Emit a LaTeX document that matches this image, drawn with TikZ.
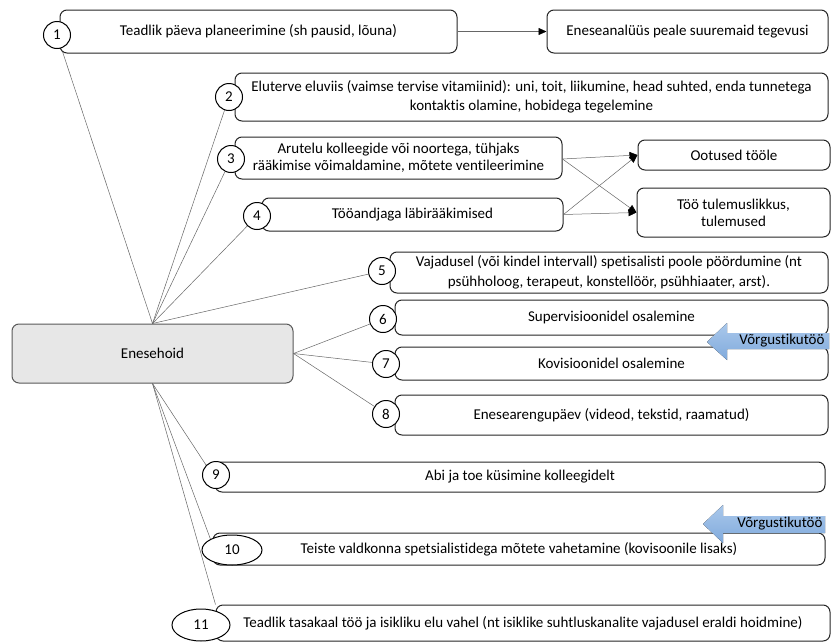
\documentclass[tikz,border=0pt]{standalone}
\usepackage{fontspec}
\setmainfont{Carlito}[Ligatures=NoCommon]
\usetikzlibrary{arrows.meta,shapes.geometric,backgrounds}
\definecolor{blueA}{RGB}{170,200,235}
\definecolor{blueB}{RGB}{128,170,220}
\definecolor{enefill}{RGB}{231,231,231}
\begin{document}
\begin{tikzpicture}[x=1pt,y=-1pt,
  every node/.style={font=\fontsize{15}{18}\selectfont},
  box/.style={draw=black!85,line width=1pt,rounded corners=7pt,fill=white,inner sep=0pt,align=center},
  num/.style={circle,draw=black,line width=1pt,fill=white,minimum size=27pt,inner sep=0pt},
  numell/.style={ellipse,draw=black,line width=1pt,fill=white,inner sep=0pt},
  conn/.style={draw=black!60,line width=0.5pt},
  arr/.style={draw=black!60,line width=0.5pt,-{Triangle[length=8pt,width=7pt,fill=black,color=black]}},
  bluearrow/.style={top color=blueA,bottom color=blueB,draw=none},
  plain/.style={inner sep=0pt}
]
\useasboundingbox (0,0) rectangle (831,643);

% boxes
\node[box,minimum width=397pt,minimum height=43pt] (b1) at (258.5,31.5) {Teadlik päeva planeerimine (sh pausid, lõuna)};
\node[box,minimum width=281pt,minimum height=43pt] (anal) at (687.5,31.5) {Eneseanalüüs peale suuremaid tegevusi};
\node[box,minimum width=593pt,minimum height=48pt,font=\fontsize{15}{19}\selectfont] (b2) at (531.5,97) {Eluterve eluviis (vaimse tervise vitamiinid): uni, toit, liikumine, head suhted, enda tunnetega\\kontaktis olamine, hobidega tegelemine};
\node[box,minimum width=327pt,minimum height=42pt,font=\fontsize{15}{17}\selectfont] (b3) at (398.5,158) {Arutelu kolleegide või noortega, tühjaks\\rääkimise võimaldamine, mõtete ventileerimine};
\node[box,minimum width=301pt,minimum height=33pt] (b4) at (412.5,214.5) {Tööandjaga läbirääkimised};
\node[box,minimum width=192pt,minimum height=30pt] (oot) at (734,155) {Ootused tööle};
\node[box,minimum width=193pt,minimum height=49pt,font=\fontsize{15}{17}\selectfont] (tul) at (733.5,212.5) {Töö tulemuslikkus,\\tulemused};
\node[box,minimum width=438pt,minimum height=41pt,font=\fontsize{15}{20}\selectfont] (b5) at (609,272.5) {Vajadusel (või kindel intervall) spetisalisti poole pöördumine (nt\\psühholoog, terapeut, konstellöör, psühhiaater, arst).};
\node[box,minimum width=433pt,minimum height=35pt] (b6) at (611.5,317.5) {Supervisioonidel osalemine};
\node[box,minimum width=433pt,minimum height=33pt] (b7) at (611.5,363.5) {Kovisioonidel osalemine};
\node[box,minimum width=433pt,minimum height=40pt] (b8) at (611.5,415) {Enesearengupäev (videod, tekstid, raamatud)};
\node[box,minimum width=610pt,minimum height=30pt] (b9) at (520,477) {Abi ja toe küsimine kolleegidelt};
\node[box,minimum width=612pt,minimum height=32pt] (b10) at (519,549) {Teiste valdkonna spetsialistidega mõtete vahetamine (kovisoonile lisaks)};
\node[box,minimum width=614pt,minimum height=36pt] (b11) at (523,623) {Teadlik tasakaal töö ja isikliku elu vahel (nt isiklike suhtluskanalite vajadusel eraldi hoidmine)};

\node[box,draw=black!65,fill=enefill,minimum width=281pt,minimum height=59pt] (ene) at (152.5,353.5) {Enesehoid};

% number markers
\node[num] (c1) at (57,35) {1};
\node[num] (c2) at (229,97) {2};
\node[num] (c3) at (231,159) {3};
\node[num] (c4) at (257,216) {4};
\node[num] (c5) at (382,271) {5};
\node[num] (c6) at (383,319) {6};
\node[num] (c7) at (386,364) {7};
\node[num] (c8) at (386,414) {8};
\node[num] (c9) at (216,475) {9};
\node[numell,minimum width=60pt,minimum height=30pt] (e10) at (232,550) {10};
\node[numell,minimum width=58pt,minimum height=32pt] (e11) at (201,625) {11};

% connectors from the central node
\begin{scope}[on background layer]
\draw[conn] (ene.north) -- (c1);
\draw[conn] (ene.north) -- (c2);
\draw[conn] (ene.north) -- (c3);
\draw[conn] (ene.north) -- (c4);
\draw[conn] (ene.north) -- (c5);
\draw[conn] (ene.east) -- (c6);
\draw[conn] (ene.east) -- (c7);
\draw[conn] (ene.east) -- (c8);
\draw[conn] (ene.south) -- (c9.north west);
\draw[conn] (ene.south) -- (e10.north west);
\draw[conn] (ene.south) -- (b11.north west);
\end{scope}

% arrows between boxes
\draw[arr] (b1.east) -- (anal.west);
\coordinate (b3r) at ([yshift=-1pt]b3.east);
\draw[arr] (b3r) -- (oot.west);
\draw[arr] (b3r) -- (tul.west);
\draw[arr] (b4.east) -- (oot.west);
\draw[arr] (b4.east) -- (tul.west);

% blue block arrows
\fill[bluearrow] (707,342) -- (727,323) -- (727,333) -- (829,333) -- (829,349) -- (727,349) -- (727,360) -- cycle;
\node[plain] (v1) at (782,341) {Võrgustikutöö};
\fill[bluearrow] (703,524) -- (723,505) -- (723,516) -- (825,516) -- (825,533) -- (723,533) -- (723,543) -- cycle;
\node[plain] (v2) at (780,524) {Võrgustikutöö};
\end{tikzpicture}
\end{document}
